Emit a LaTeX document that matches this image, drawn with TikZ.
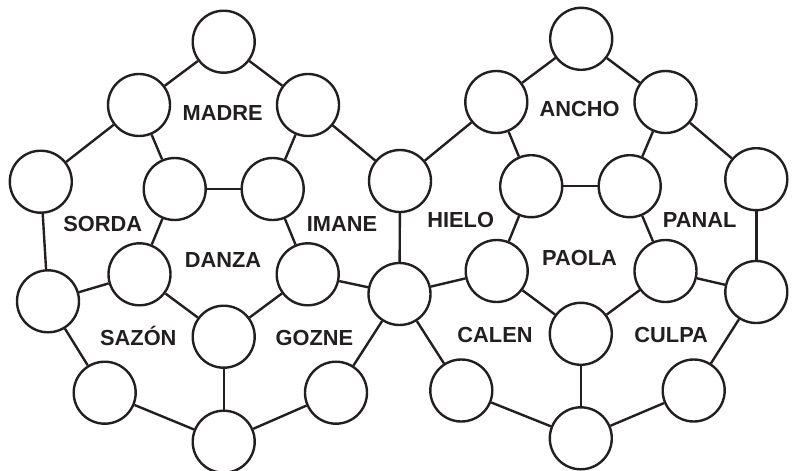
\documentclass[tikz,border=0pt]{standalone}
\usepackage{fontspec}
\setmainfont{Liberation Sans}
\definecolor{ink}{RGB}{35,31,32}
\begin{document}
\begin{tikzpicture}[x=1pt,y=-1pt,
  vtx/.style={circle,draw=ink,line width=2.4pt,minimum size=62pt,inner sep=0pt,fill=white},
  edge/.style={draw=ink,line width=2.4pt},
  lbl/.style={anchor=base,inner sep=0pt,text=ink,font=\fontsize{21.8}{26}\selectfont\bfseries}]
\useasboundingbox (0,0) rectangle (795,471);
% shared nodes
\node[vtx] (R) at (400,181) {};
\node[vtx] (S) at (399.5,294) {};
% left graph
\node[vtx] (a1) at (223.7,41.7) {};
\node[vtx] (a2) at (139,105) {};
\node[vtx] (a3) at (308,105) {};
\node[vtx] (a4) at (40.8,181.7) {};
\node[vtx] (a5) at (174.7,189) {};
\node[vtx] (a6) at (272.7,189) {};
\node[vtx] (a7) at (48,301.3) {};
\node[vtx] (a8) at (139.5,274.3) {};
\node[vtx] (a9) at (223.7,336.7) {};
\node[vtx] (a10) at (307.7,274.3) {};
\node[vtx] (a11) at (104.7,392.7) {};
\node[vtx] (a12) at (336,392.7) {};
\node[vtx] (a13) at (223.7,441.7) {};
% right graph
\node[vtx] (b1) at (581.2,38.8) {};
\node[vtx] (b2) at (496.3,102) {};
\node[vtx] (b3) at (665.5,102) {};
\node[vtx] (b4) at (756.3,179.2) {};
\node[vtx] (b5) at (531.2,186.2) {};
\node[vtx] (b6) at (629.7,186.2) {};
\node[vtx] (b7) at (756.3,292) {};
\node[vtx] (b8) at (496.7,271) {};
\node[vtx] (b9) at (580.8,333.8) {};
\node[vtx] (b10) at (665.5,271) {};
\node[vtx] (b11) at (461.3,390.5) {};
\node[vtx] (b12) at (693.7,390.5) {};
\node[vtx] (b13) at (580.8,438.3) {};
% left edges
\path[edge] (a1) -- (a2);
\path[edge] (a1) -- (a3);
\path[edge] (a2) -- (a4);
\path[edge] (a2) -- (a5);
\path[edge] (a3) -- (a6);
\path[edge] (a3) -- (R);
\path[edge] (a5) -- (a6);
\path[edge] (a4) -- (a7);
\path[edge] (a5) -- (a8);
\path[edge] (a6) -- (a10);
\path[edge] (a7) -- (a8);
\path[edge] (a8) -- (a9);
\path[edge] (a10) -- (a9);
\path[edge] (a10) -- (S);
\path[edge] (R) -- (S);
\path[edge] (a7) -- (a11);
\path[edge] (S) -- (a12);
\path[edge] (a11) -- (a13);
\path[edge] (a12) -- (a13);
\path[edge] (a9) -- (a13);
% right edges
\path[edge] (b1) -- (b2);
\path[edge] (b1) -- (b3);
\path[edge] (b2) -- (R);
\path[edge] (b2) -- (b5);
\path[edge] (b3) -- (b6);
\path[edge] (b3) -- (b4);
\path[edge] (b5) -- (b6);
\path[edge] (b5) -- (b8);
\path[edge] (b6) -- (b10);
\path[edge] (b4) -- (b7);
\path[edge] (S) -- (b8);
\path[edge] (b8) -- (b9);
\path[edge] (b10) -- (b9);
\path[edge] (b10) -- (b7);
\path[edge] (S) -- (b11);
\path[edge] (b7) -- (b12);
\path[edge] (b11) -- (b13);
\path[edge] (b12) -- (b13);
\path[edge] (b9) -- (b13);
% labels
\node[lbl] (tMADRE) at (222.7,120.5) {MADRE};
\node[lbl] (tSORDA) at (102.8,231.8) {SORDA};
\node[lbl] (tIMANE) at (342,231.8) {IMANE};
\node[lbl] (tDANZA) at (223,267.1) {DANZA};
\node[lbl] (tSAZON) at (138.3,345.1) {SAZÓN};
\node[lbl] (tGOZNE) at (314.5,345.1) {GOZNE};
\node[lbl] (tANCHO) at (579.5,116.1) {ANCHO};
\node[lbl] (tHIELO) at (460.7,227.8) {HIELO};
\node[lbl] (tPANAL) at (699.7,227.8) {PANAL};
\node[lbl] (tPAOLA) at (579.5,265.1) {PAOLA};
\node[lbl] (tCALEN) at (495,342.8) {CALEN};
\node[lbl] (tCULPA) at (671.2,342.8) {CULPA};
\end{tikzpicture}
\end{document}
